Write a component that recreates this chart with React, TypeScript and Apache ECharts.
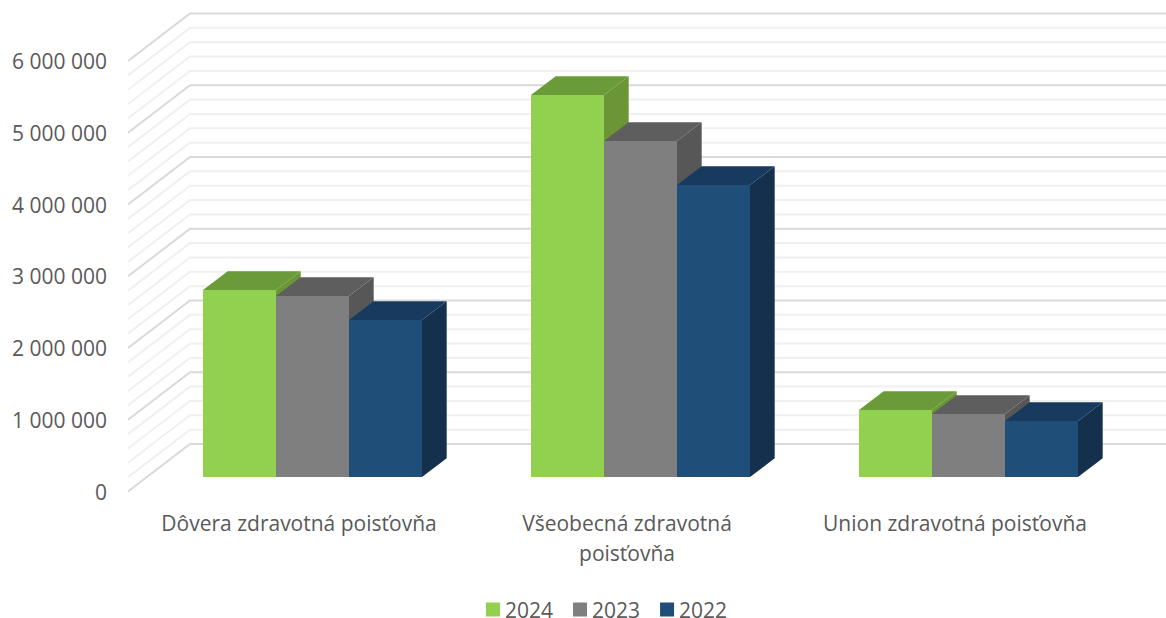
import React, { useEffect, useRef } from "react";
import * as echarts from "echarts";

const categories = ["Dôvera zdravotná poisťovňa", "Všeobecná zdravotná\npoisťovňa", "Union zdravotná poisťovňa"];
const years = ["2024", "2023", "2022"];
const values2024 = [2606000, 5324000, 934000];
const values2023 = [2523000, 4683000, 878000];
const values2022 = [2188000, 4070000, 780000];
const gridValues = [
  0, 200000, 400000, 600000, 800000, 1000000, 1200000, 1400000, 1600000, 1800000, 2000000, 2200000, 2400000, 2600000,
  2800000, 3000000, 3200000, 3400000, 3600000, 3800000, 4000000, 4200000, 4400000, 4600000, 4800000, 5000000, 5200000,
  5400000, 5600000, 5800000, 6000000,
];

const frontColors = ["#92D050", "#7F7F7F", "#1F4E79"];
const topColors = ["#6B9A39", "#5E5E5E", "#173A5E"];
const sideColors = ["#6A9635", "#575757", "#14304D"];

const FONT = '"Open Sans", sans-serif';
const TEXT = "#595959";
const WALL_OFFSET = 7;
const WALL_DX = 62;
const WALL_DY = -47.5;
const BAR_SHIFT_X = 13.5;
const BAR_SHIFT_Y = -14.5;
const BAR_W = 73;
const DEPTH_X = 24.7;
const DEPTH_Y = -18.7;

function barSeries(idx: number, vals: number[]) {
  return {
    type: "custom",
    name: years[idx],
    silent: true,
    z: 3 + idx,
    itemStyle: { color: frontColors[idx] },
    data: vals.map((v, i) => [i, v]),
    renderItem: (_p: any, api: any) => {
      const top = api.coord([api.value(0), api.value(1)]);
      const base = api.coord([api.value(0), 0]);
      const x0 = top[0] + BAR_SHIFT_X + (idx - 1.5) * BAR_W;
      const x1 = x0 + BAR_W;
      const yT = top[1] + BAR_SHIFT_Y;
      const yB = base[1] + BAR_SHIFT_Y;
      const poly = (points: number[][], fill: string) => ({
        type: "polygon",
        shape: { points },
        style: { fill, stroke: null },
      });
      return {
        type: "group",
        children: [
          poly([[x1, yT], [x1 + DEPTH_X, yT + DEPTH_Y], [x1 + DEPTH_X, yB + DEPTH_Y], [x1, yB]], sideColors[idx]),
          poly([[x0, yT], [x0 + DEPTH_X, yT + DEPTH_Y], [x1 + DEPTH_X, yT + DEPTH_Y], [x1, yT]], topColors[idx]),
          poly([[x0, yT], [x1, yT], [x1, yB], [x0, yB]], frontColors[idx]),
        ],
      };
    },
  };
}

export default function App() {
  const ref = useRef<HTMLDivElement>(null);
  useEffect(() => {
    document.body.style.margin = "0";
    const chart = echarts.init(ref.current!, undefined, { renderer: "svg" });
    chart.setOption({
      animation: false,
      backgroundColor: "#ffffff",
      grid: { left: 135, top: 61, width: 984, height: 430.5 },
      legend: {
        data: years,
        left: 481,
        top: 594,
        itemWidth: 14,
        itemHeight: 14,
        itemGap: 20,
        icon: "rect",
        textStyle: { color: TEXT, fontFamily: FONT, fontSize: 21 },
      },
      xAxis: {
        type: "category",
        data: categories,
        axisLine: { show: false },
        axisTick: { show: false },
        splitLine: { show: false },
        axisLabel: {
          color: TEXT,
          fontFamily: FONT,
          fontSize: 21,
          margin: 16,
          lineHeight: 30,
          interval: 0,
        },
      },
      yAxis: {
        type: "value",
        min: 0,
        max: 6000000,
        interval: 1000000,
        axisLine: { show: false },
        axisTick: { show: false },
        splitLine: { show: false },
        axisLabel: {
          color: TEXT,
          fontFamily: FONT,
          fontSize: 21,
          margin: 28,
          padding: [3, 0, 0, 0],
          formatter: (v: number) => String(v).replace(/\B(?=(\d{3})+(?!\d))/g, " "),
        },
      },
      series: [
        {
          type: "custom",
          name: "grid",
          silent: true,
          z: 1,
          data: gridValues.map((v) => [0, v]),
          renderItem: (p: any, api: any) => {
            const v = api.value(1);
            const y = api.coord([0, v])[1];
            const x = p.coordSys.x - WALL_OFFSET;
            const major = v % 1000000 === 0;
            return {
              type: "polyline",
              z2: major ? 2 : 1,
              shape: { points: [[x, y], [x + WALL_DX, y + WALL_DY], [1166, y + WALL_DY]] },
              style: { fill: null, stroke: major ? "#D9D9D9" : "#F0F0F0", lineWidth: 2 },
            };
          },
        },
        barSeries(0, values2024),
        barSeries(1, values2023),
        barSeries(2, values2022),
      ],
    });
    return () => chart.dispose();
  }, []);
  return <div ref={ref} style={{ position: "absolute", left: 0, top: 0, width: 1166, height: 618 }} />;
}
